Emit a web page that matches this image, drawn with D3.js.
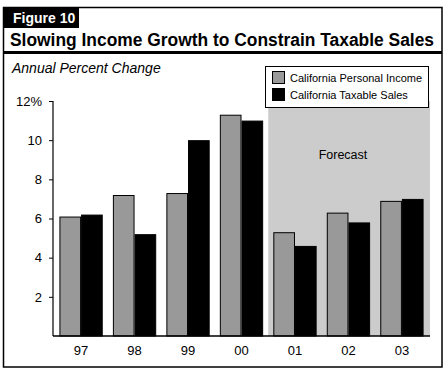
<!DOCTYPE html>
<html>
<head>
<meta charset="utf-8">
<script src="https://cdn.jsdelivr.net/npm/d3@7"></script>
<style>
  body { margin: 0; background: #fff; }
  svg { display: block; font-family: "Liberation Sans", Arial, sans-serif; }
</style>
</head>
<body>
<div id="chart"></div>
<script>
// Chart data
const years = ['97', '98', '99', '00', '01', '02', '03'];
const personalIncome = [6.1, 7.2, 7.3, 11.3, 5.3, 6.3, 6.9];
const taxableSales = [6.2, 5.2, 10.0, 11.0, 4.6, 5.8, 7.0];
const seriesNames = ['California Personal Income', 'California Taxable Sales'];
const yTicks = [2, 4, 6, 8, 10, 12];
const forecastYears = ['01', '02', '03'];

const width = 447, height = 372;
const colors = ['#999999', '#000000'];

const svg = d3.select('#chart').append('svg')
    .attr('width', width)
    .attr('height', height);

// Outer frame
svg.append('rect')
    .attr('x', 3.5).attr('y', 7.5)
    .attr('width', 438.5).attr('height', 359.5)
    .attr('fill', 'none')
    .attr('stroke', '#000')
    .attr('stroke-width', 1.5);

// Figure tab
svg.append('rect')
    .attr('x', 3).attr('y', 7)
    .attr('width', 76).attr('height', 21)
    .attr('fill', '#000');
svg.append('text')
    .attr('x', 13).attr('y', 23)
    .attr('fill', '#fff')
    .attr('font-weight', 'bold')
    .attr('font-size', '14px')
    .text('Figure 10');

// Title
svg.append('text')
    .attr('x', 10).attr('y', 46)
    .attr('font-weight', 'bold')
    .attr('font-size', '17.5px')
    .attr('textLength', 424)
    .attr('lengthAdjust', 'spacingAndGlyphs')
    .text('Slowing Income Growth to Constrain Taxable Sales');
svg.append('rect')
    .attr('x', 3).attr('y', 51)
    .attr('width', 439).attr('height', 3)
    .attr('fill', '#000');

// Subtitle
svg.append('text')
    .attr('x', 12).attr('y', 73)
    .attr('font-style', 'italic')
    .attr('font-size', '14px')
    .text('Annual Percent Change');

// Scales
const x = d3.scaleBand()
    .domain(years)
    .range([53, 430])
    .paddingInner(0.19)
    .paddingOuter(0.12);

const x1 = d3.scaleBand()
    .domain(seriesNames)
    .range([0, x.bandwidth()]);

const y = d3.scaleLinear()
    .domain([0, 12])
    .range([336, 101]);

// Forecast shading
const gap = x.step() - x.bandwidth();
const shadeX0 = x(forecastYears[0]) - gap / 2;
svg.append('rect')
    .attr('x', shadeX0)
    .attr('y', y(12))
    .attr('width', x.range()[1] - shadeX0)
    .attr('height', y(0) - y(12))
    .attr('fill', '#cccccc');

svg.append('text')
    .attr('x', 343).attr('y', 159)
    .attr('text-anchor', 'middle')
    .attr('font-size', '12.5px')
    .text('Forecast');

// Bars
const rows = years.map((yr, i) => ({ year: yr, values: [personalIncome[i], taxableSales[i]] }));

const groups = svg.append('g')
    .selectAll('g')
    .data(rows)
    .join('g')
    .attr('transform', d => `translate(${x(d.year)},0)`);

groups.selectAll('rect')
    .data(d => d.values.map((v, k) => ({ key: seriesNames[k], value: v, k })))
    .join('rect')
    .attr('x', d => x1(d.key) + 0.5)
    .attr('y', d => y(d.value) + 0.5)
    .attr('width', x1.bandwidth() - 1)
    .attr('height', d => y(0) - y(d.value) - 0.5)
    .attr('fill', d => colors[d.k])
    .attr('stroke', '#000')
    .attr('stroke-width', 1);

// Axes
const yAxis = svg.append('g')
    .attr('transform', 'translate(53,0)')
    .call(d3.axisLeft(y)
        .tickValues(yTicks)
        .tickSize(4)
        .tickPadding(7)
        .tickFormat(d => d === 12 ? '12%' : d));
yAxis.select('.domain').attr('stroke-width', 1.2).attr('d', `M0,${y(12)}V${y(0)}`);
yAxis.selectAll('.tick line').attr('stroke-width', 1);
yAxis.selectAll('.tick text')
    .attr('font-size', '13px')
    .attr('font-family', '"Liberation Sans", Arial, sans-serif')
    .attr('fill', '#000');

svg.append('line')
    .attr('x1', 53).attr('x2', x.range()[1])
    .attr('y1', y(0)).attr('y2', y(0))
    .attr('stroke', '#000')
    .attr('stroke-width', 1.5);

svg.append('g')
    .selectAll('text')
    .data(years)
    .join('text')
    .attr('x', d => x(d) + x.bandwidth() / 2)
    .attr('y', 355)
    .attr('text-anchor', 'middle')
    .attr('font-size', '13px')
    .text(d => d);

// Legend
const legend = svg.append('g');
legend.append('rect')
    .attr('x', 265.5).attr('y', 66.5)
    .attr('width', 163).attr('height', 41)
    .attr('fill', '#fff')
    .attr('stroke', '#000')
    .attr('stroke-width', 1);

seriesNames.forEach((name, i) => {
    const item = legend.append('g')
        .attr('transform', `translate(272, ${71 + i * 17})`);
    item.append('rect')
        .attr('x', 0.5).attr('y', 0.5)
        .attr('width', 12).attr('height', 12)
        .attr('fill', colors[i])
        .attr('stroke', '#000')
        .attr('stroke-width', 1);
    item.append('text')
        .attr('x', 18).attr('y', 10.5)
        .attr('font-size', '11px')
        .text(name);
});
</script>
</body>
</html>
